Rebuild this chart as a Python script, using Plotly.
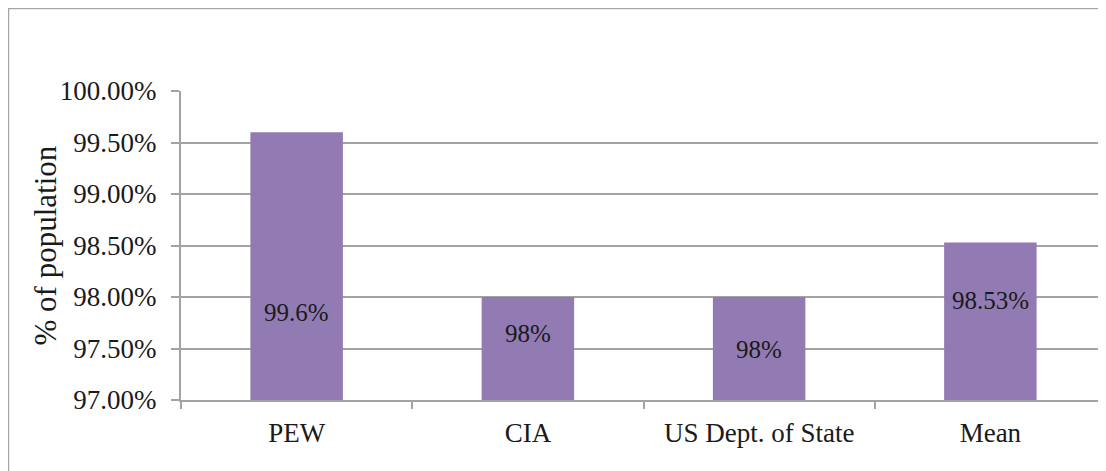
import plotly.graph_objects as go

categories = ["PEW", "CIA", "US Dept. of State", "Mean"]
values = [99.6, 98.0, 98.0, 98.53]
label_texts = ["99.6%", "98%", "98%", "98.53%"]
tick_vals = [97.0, 97.5, 98.0, 98.5, 99.0, 99.5, 100.0]
tick_texts = ["97.00%", "97.50%", "98.00%", "98.50%", "99.00%", "99.50%", "100.00%"]

# label placement (style): y position of each data label in axis units
label_y = [97.854, 97.65, 97.495, 97.97]

FONT = "Liberation Serif, serif"
INK = "#1a1a1a"
GRID = "#a3a3a3"

fig = go.Figure()
fig.add_trace(go.Bar(
    x=categories, y=[v - 97.0 for v in values], base=97.0,
    marker=dict(color="#917bb2", line=dict(width=0)),
    width=0.4, hoverinfo="skip",
))

for c, t, ly in zip(categories, label_texts, label_y):
    fig.add_annotation(x=c, y=ly, xref="x", yref="y", text=t, showarrow=False,
                       font=dict(family=FONT, size=25, color=INK))

# y-axis title
fig.add_annotation(xref="paper", yref="paper", x=-0.146, y=0.5, text="% of population",
                   textangle=-90, showarrow=False, xanchor="center", yanchor="middle",
                   font=dict(family=FONT, size=31, color=INK))

# outer chart border (cropped on right and bottom)
fig.add_shape(type="rect", xref="paper", yref="paper",
              x0=-0.1865, x1=1.1, y0=-0.4, y1=1.267,
              line=dict(color="#a6a6a6", width=1.5), fillcolor="rgba(0,0,0,0)", layer="below")

fig.update_layout(
    width=1098, height=463,
    margin=dict(l=173, r=0, t=83, b=71),
    paper_bgcolor="white", plot_bgcolor="white",
    showlegend=False, bargap=0.6,
    font=dict(family=FONT, color=INK),
)
fig.update_xaxes(
    type="category", showline=True, linecolor=GRID, linewidth=2,
    ticks="outside", tickson="boundaries", ticklen=7, tickcolor=GRID, tickwidth=2,
    showgrid=False, tickfont=dict(family=FONT, size=27, color=INK),
    ticklabelstandoff=8,
)
fig.update_yaxes(
    range=[97.0, 100.0], tickvals=tick_vals, ticktext=tick_texts,
    showline=True, linecolor=GRID, linewidth=2,
    ticks="outside", ticklen=8, tickcolor=GRID, tickwidth=2,
    showgrid=True, gridcolor=GRID, gridwidth=2, zeroline=False,
    tickfont=dict(family=FONT, size=27, color=INK),
    ticklabelstandoff=9,
)

fig.write_html("out.html")
